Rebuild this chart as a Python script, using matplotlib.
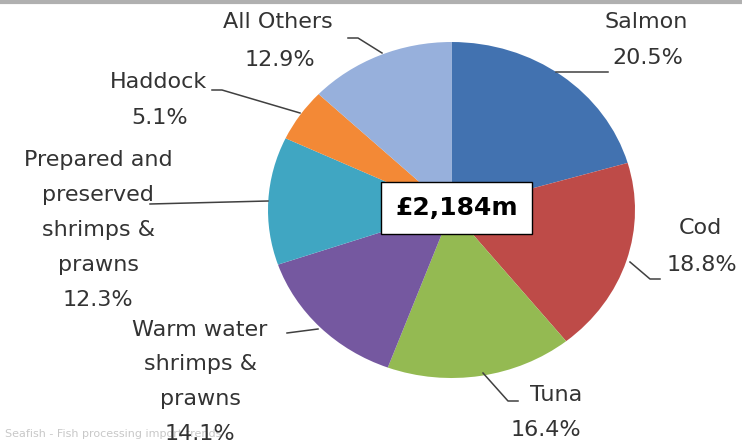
import matplotlib
matplotlib.use("Agg")
import matplotlib.pyplot as plt
from matplotlib.lines import Line2D

categories = ["Salmon", "Cod", "Tuna", "Warm water\nshrimps &\nprawns",
              "Prepared and\npreserved\nshrimps &\nprawns", "Haddock", "All Others"]
values = [20.5, 18.8, 16.4, 14.1, 12.3, 5.1, 12.9]
colors = ["#4272B0", "#BE4B48", "#94BA52", "#7558A0", "#40A6C2", "#F38936", "#97B0DC"]
total_label = "£2,184m"

W, H = 742, 442
fig = plt.figure(figsize=(W / 100, H / 100), dpi=100)

# pie geometry in pixels (slightly elliptical like the reference)
cx, cy, rx, ry = 451.5, 210, 183.5, 168
ax = fig.add_axes([(cx - rx) / W, (H - cy - ry) / H, 2 * rx / W, 2 * ry / H])
ax.pie(values, colors=colors, startangle=90, counterclock=False, radius=1,
       wedgeprops=dict(linewidth=0))
ax.set_aspect("auto")
ax.set_xlim(-1, 1)
ax.set_ylim(-1, 1)
ax.axis("off")

def d(px, py):
    return (px - cx) / rx, (cy - py) / ry

txt_color = "#333333"
fs = 16

def put(px, py, s):
    x, y = d(px, py)
    ax.text(x, y, s, ha="center", va="center", fontsize=fs, color=txt_color, clip_on=False)

# Salmon, Cod, Tuna
put(646, 22, categories[0]); put(648, 58, f"{values[0]}%")
put(700, 228, categories[1]); put(702, 265, f"{values[1]}%")
put(556, 395, categories[2]); put(546, 430, f"{values[2]}%")
# Warm water
for j, line in enumerate(categories[3].split("\n") + [f"{values[3]}%"]):
    put(200, 330 + 34.5 * j, line)
# Prepared and preserved
for j, line in enumerate(categories[4].split("\n") + [f"{values[4]}%"]):
    put(98, 160 + 35 * j, line)
# Haddock
put(158, 82, categories[5]); put(160, 118, f"{values[5]}%")
# All Others
put(278, 22, categories[6]); put(280, 60, f"{values[6]}%")

# leader lines (pixel paths)
leaders = [
    [(556, 72), (608, 72)],
    [(630, 262), (650, 279), (660, 279)],
    [(483, 373), (508, 401), (518, 401)],
    [(287, 333), (318, 329)],
    [(150, 204), (268, 201)],
    [(212, 90), (222, 90), (300, 113)],
    [(348, 38), (358, 38), (382, 53)],
]
for pts in leaders:
    xs, ys = zip(*[d(px, py) for px, py in pts])
    ax.plot(xs, ys, color="#404040", lw=1.1, clip_on=False)

# center total box
bx, by = d(456.5, 208)
ax.text(bx, by, total_label, ha="center", va="center", fontsize=18,
        fontweight="bold", family="DejaVu Sans", color="black",
        bbox=dict(boxstyle="square,pad=0.55", fc="white", ec="black", lw=1.0))

# top grey rule
fig.add_artist(Line2D([0, 1], [1 - 1.5 / H, 1 - 1.5 / H], color="#b0b0b0", lw=3))
# faint caption at bottom
fig.text(5 / W, 1 - 434 / H, "Seafish - Fish processing import trends", fontsize=8,
         color="#c8c8c8", va="center", ha="left", zorder=-1)

fig.savefig("out.png", dpi=100)
